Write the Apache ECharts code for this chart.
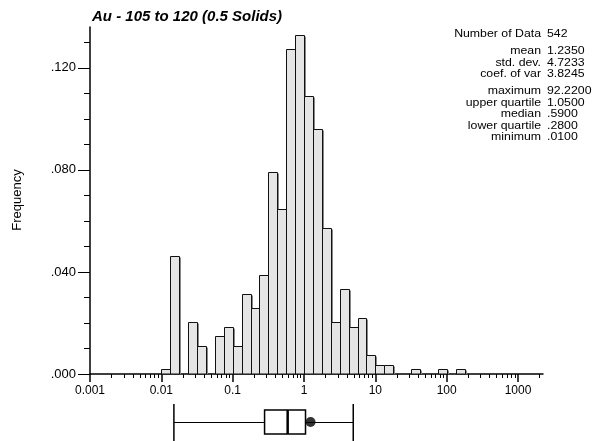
<!DOCTYPE html>
<html>
<head>
<meta charset="utf-8">
<script src="https://cdn.jsdelivr.net/npm/echarts@6/dist/echarts.min.js"></script>
<style>
  html, body { margin: 0; padding: 0; background: #fff; }
  #chart { width: 602px; height: 441px; }
</style>
</head>
<body>
<div id="chart"></div>
<script>
// histogram bins, 1/8 decade wide, first bin starts at 0.01
const binStartLog = -2;
const binWidthLog = 0.125;
const binCounts = [1, 25, 0, 11, 6, 0, 8, 10, 6, 17, 14, 21, 43, 35, 69, 72, 59, 52, 31,
                   11, 18, 10, 12, 4, 2, 2, 0, 0, 1, 0, 0, 1, 0, 1];
const nData = 542;

// axes
const xMajorTicks = [0.001, 0.01, 0.1, 1, 10, 100, 1000];
const xTickLabels = ['0.001', '0.01', '0.1', '1', '10', '100', '1000'];
const xMinorSteps = [2, 3, 4, 5, 6, 7, 8, 9];
const yMajorTicks = [0, 0.04, 0.08, 0.12];
const yTickLabels = ['.000', '.040', '.080', '.120'];
const yMinorTicks = [0.01, 0.02, 0.03, 0.05, 0.06, 0.07, 0.09, 0.10, 0.11, 0.13];

// statistics block
const statNames = ['Number of Data', 'mean', 'std. dev.', 'coef. of var',
                   'maximum', 'upper quartile', 'median', 'lower quartile', 'minimum'];
const statValues = ['542', '1.2350', '4.7233', '3.8245',
                    '92.2200', '1.0500', '.5900', '.2800', '.0100'];
const statRowY = [34, 51, 62.5, 74, 91, 102.5, 114, 125.5, 137];

// box plot: whisker low, q1, median, q3, whisker high
const boxStats = [0.015, 0.28, 0.59, 1.05, 4.9];
const meanValue = 1.235;

const FONT = '"Liberation Sans", Arial, sans-serif';

const bins = binCounts.map((c, i) => [
  Math.pow(10, binStartLog + i * binWidthLog),
  Math.pow(10, binStartLog + (i + 1) * binWidthLog),
  c / nData
]);

const xMinorTicks = [];
xMajorTicks.forEach(d => xMinorSteps.forEach(m => xMinorTicks.push(d * m)));

const X_MIN = 0.001, X_MAX = 2240;

function crisp(v) { return Math.round(v) + 0.5; }

const chart = echarts.init(document.getElementById('chart'));

const graphics = [
  {
    type: 'text', left: 92, top: 9,
    style: { text: 'Au - 105 to 120 (0.5 Solids)', font: 'italic bold 15px ' + FONT, fill: '#000' }
  },
  {
    type: 'text', x: 17, y: 200, rotation: Math.PI / 2,
    style: { text: 'Frequency', font: '13px ' + FONT, fill: '#000', align: 'center', verticalAlign: 'middle' }
  }
];
// stats text is a little wider than plain Arial in the original
statNames.forEach((name, i) => {
  graphics.push({
    type: 'text', x: 541, y: statRowY[i], scaleX: 1.07,
    style: { text: name, font: '11.5px ' + FONT, fill: '#000', align: 'right', verticalAlign: 'middle' }
  });
  graphics.push({
    type: 'text', x: 547, y: statRowY[i], scaleX: 1.07,
    style: { text: statValues[i], font: '11.5px ' + FONT, fill: '#000', align: 'left', verticalAlign: 'middle' }
  });
});

const option = {
  backgroundColor: '#fff',
  animation: false,
  grid: [
    { left: 90, right: 59, top: 27, bottom: 67 },
    { left: 90, right: 59, top: 403, height: 38 }
  ],
  xAxis: [
    {
      type: 'log', gridIndex: 0, min: X_MIN, max: X_MAX, position: 'bottom',
      axisLine: { lineStyle: { color: '#000', width: 1.5 } },
      axisTick: { customValues: xMajorTicks, length: 8, inside: false, lineStyle: { color: '#000', width: 1.5 } },
      axisLabel: {
        customValues: xMajorTicks, margin: 11,
        color: '#000', fontFamily: FONT, fontSize: 12,
        formatter: v => xTickLabels[xMajorTicks.findIndex(t => Math.abs(t - v) / t < 1e-6)] || ''
      },
      splitLine: { show: false }
    },
    {
      type: 'log', gridIndex: 0, min: X_MIN, max: X_MAX, position: 'bottom',
      axisLine: { show: false },
      axisTick: { customValues: xMinorTicks, length: 4, lineStyle: { color: '#000', width: 1 } },
      axisLabel: { show: false },
      splitLine: { show: false }
    },
    {
      type: 'log', gridIndex: 1, min: X_MIN, max: X_MAX, show: false
    }
  ],
  yAxis: [
    {
      type: 'value', gridIndex: 0, min: 0, max: 0.136, position: 'left',
      axisLine: { show: true, lineStyle: { color: '#000', width: 1.5 } },
      axisTick: { show: true, customValues: yMajorTicks, length: 12, lineStyle: { color: '#000', width: 1 } },
      axisLabel: {
        customValues: yMajorTicks, margin: 14,
        color: '#000', fontFamily: FONT, fontSize: 13,
        verticalAlign: 'middle', padding: [0, 0, 8, 0],
        formatter: v => yTickLabels[yMajorTicks.findIndex(t => Math.abs(t - v) < 1e-9)] || ''
      },
      splitLine: { show: false }
    },
    {
      type: 'value', gridIndex: 0, min: 0, max: 0.136, position: 'left', offset: 0,
      axisLine: { show: false },
      axisTick: { show: true, customValues: yMinorTicks, length: 6, lineStyle: { color: '#000', width: 1 } },
      axisLabel: { show: false },
      splitLine: { show: false }
    },
    { type: 'value', gridIndex: 1, min: 0, max: 1, show: false }
  ],
  graphic: graphics,
  series: [
    {
      type: 'custom',
      xAxisIndex: 0, yAxisIndex: 0,
      data: bins,
      encode: { x: [0, 1], y: 2 },
      renderItem: (params, api) => {
        const h = api.value(2);
        if (!h) return null;
        const p0 = api.coord([api.value(0), h]);
        const p1 = api.coord([api.value(1), 0]);
        const x0 = crisp(p0[0]), x1 = crisp(p1[0]), y0 = crisp(p0[1]), y1 = Math.round(p1[1]);
        return {
          type: 'group',
          children: [
            { type: 'rect', shape: { x: x0, y: y0, width: x1 - x0, height: y1 - y0 },
              style: { fill: '#e5e5e5', stroke: '#111', lineWidth: 1 } },
            { type: 'line', shape: { x1: x1 + 1, y1: y0 + 1, x2: x1 + 1, y2: y1 },
              style: { stroke: '#888', lineWidth: 1 } }
          ]
        };
      },
      z: 1
    },
    {
      type: 'custom',
      xAxisIndex: 2, yAxisIndex: 2,
      data: [boxStats],
      renderItem: (params, api) => {
        const cy = api.coord([1, 0.5])[1];
        const px = [0, 1, 2, 3, 4].map(i => api.coord([api.value(i), 0.5])[0]);
        const st = { stroke: '#000', fill: 'none' };
        return {
          type: 'group',
          children: [
            { type: 'line', shape: { x1: px[0], y1: crisp(cy), x2: px[1], y2: crisp(cy) }, style: Object.assign({ lineWidth: 1 }, st) },
            { type: 'line', shape: { x1: px[3], y1: crisp(cy), x2: px[4], y2: crisp(cy) }, style: Object.assign({ lineWidth: 1 }, st) },
            { type: 'line', shape: { x1: px[0], y1: cy - 18, x2: px[0], y2: cy + 20 }, style: Object.assign({ lineWidth: 1.5 }, st) },
            { type: 'line', shape: { x1: px[4], y1: cy - 18, x2: px[4], y2: cy + 20 }, style: Object.assign({ lineWidth: 1.5 }, st) },
            { type: 'rect', shape: { x: px[1], y: cy - 12, width: px[3] - px[1], height: 24 }, style: Object.assign({ lineWidth: 1.5 }, st) },
            { type: 'line', shape: { x1: px[2], y1: cy - 12, x2: px[2], y2: cy + 12 }, style: Object.assign({ lineWidth: 2.5 }, st) }
          ]
        };
      }
    },
    {
      type: 'scatter',
      xAxisIndex: 2, yAxisIndex: 2,
      data: [[meanValue, 0.5]],
      symbol: 'circle', symbolSize: 10,
      itemStyle: { color: '#000' },
      z: 5
    }
  ]
};

chart.setOption(option);
</script>
</body>
</html>
